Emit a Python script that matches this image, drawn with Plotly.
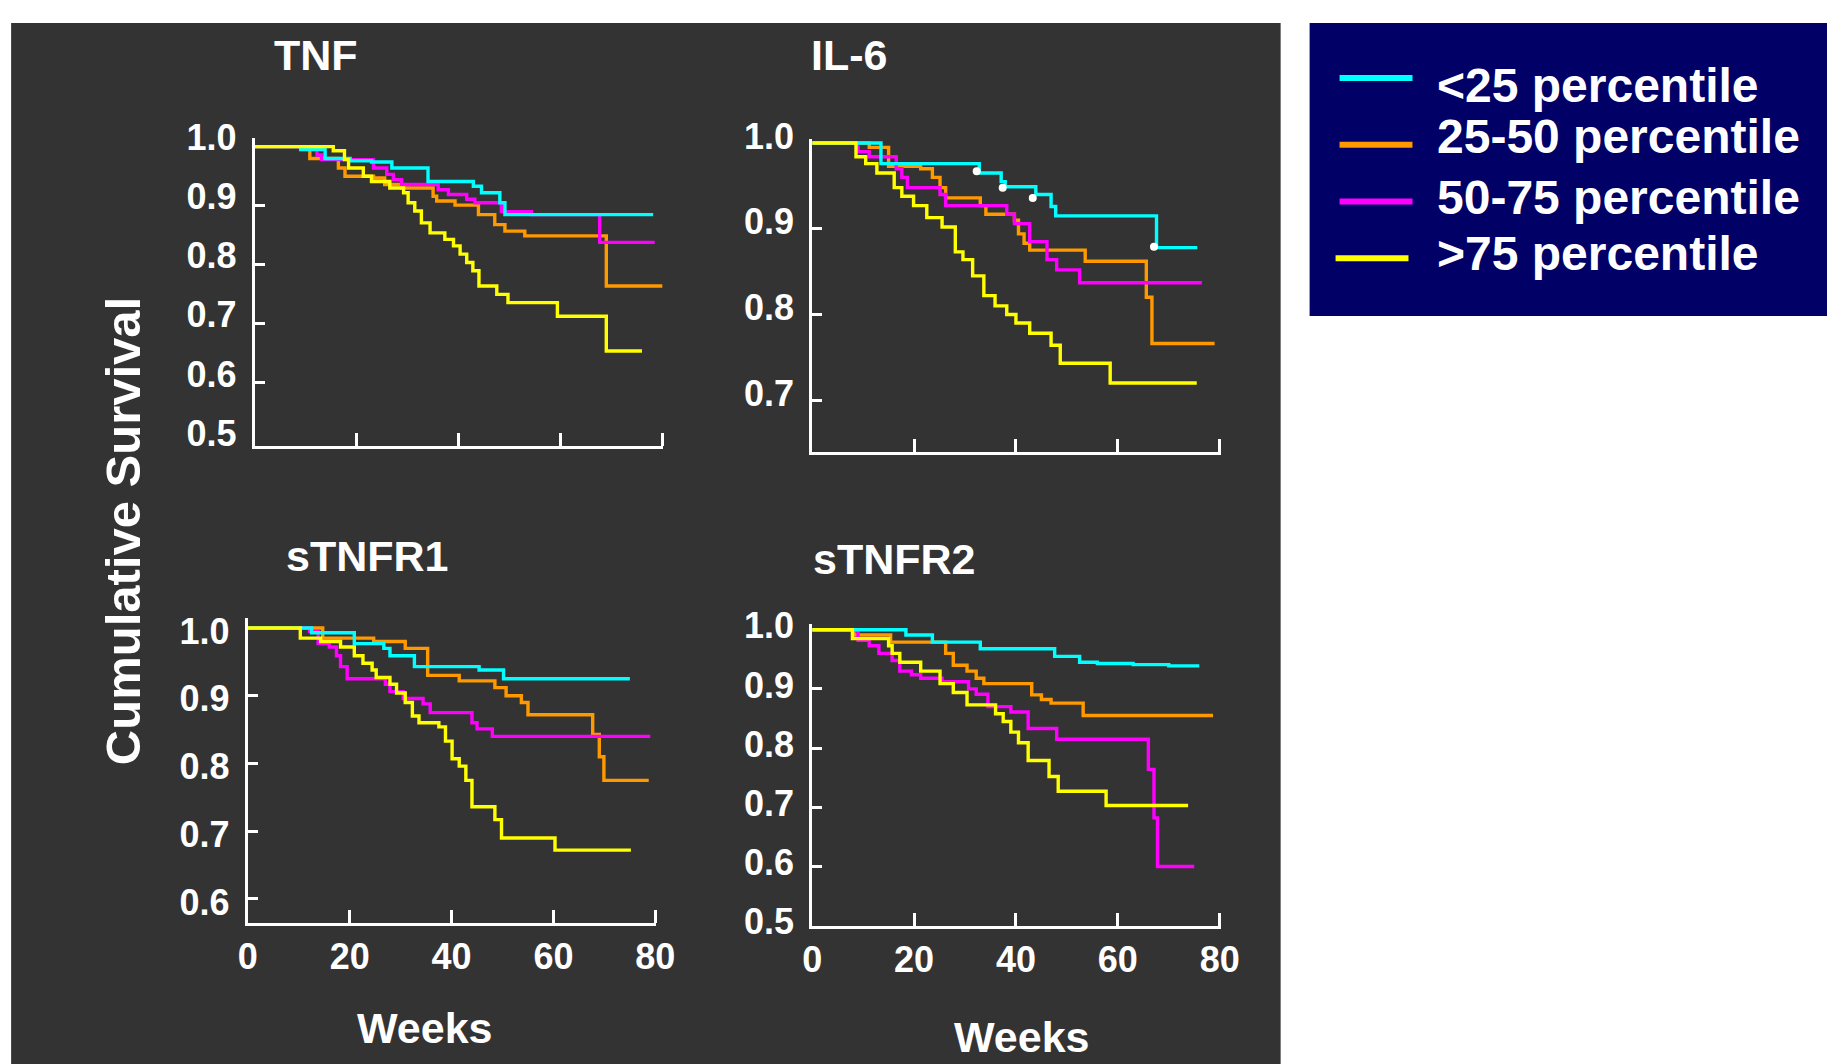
import plotly.graph_objects as go

# Layout positions below are given in target-image pixels (1827 x 1064) and
# converted to paper fractions by fx()/fy().  The page shows the figure after
# an 8px body margin inside a capture area of about 1854 x 1100 page pixels.
IMG_W, IMG_H = 1827, 1064
CAP_W, CAP_H = 1854, 1100
BODY_MARGIN = 8
FIG_W, FIG_H = CAP_W - BODY_MARGIN, CAP_H - BODY_MARGIN

# ---------------------------------------------------------------------------
# Data: Kaplan-Meier step curves (week of each step, survival after the step)
# ---------------------------------------------------------------------------
GROUPS = ["<25 percentile", "25-50 percentile", "50-75 percentile", ">75 percentile"]
GROUP_COLORS = ["#00FFFF", "#FF9900", "#FF00FF", "#FFFF00"]
PANEL_TITLES = ["TNF", "IL-6", "sTNFR1", "sTNFR2"]

WEEK_TICKS = [0, 20, 40, 60, 80]
WEEK_MARKS = [20, 40, 60, 80]
TNF_SURV_LABELS = [0.5, 0.6, 0.7, 0.8, 0.9, 1.0]
TNF_SURV_MARKS = [0.6, 0.7, 0.8, 0.9]
IL6_SURV_LABELS = [0.7, 0.8, 0.9, 1.0]
IL6_SURV_MARKS = [0.7, 0.8, 0.9]
STNFR1_SURV_LABELS = [0.6, 0.7, 0.8, 0.9, 1.0]
STNFR1_SURV_MARKS = [0.6, 0.7, 0.8, 0.9]
STNFR2_SURV_LABELS = [0.5, 0.6, 0.7, 0.8, 0.9, 1.0]
STNFR2_SURV_MARKS = [0.6, 0.7, 0.8, 0.9]

# TNF
TNF_Q1_WEEKS = [9.0, 13.8, 18.7, 22.9, 26.9, 34.0, 42.9, 44.5, 48.1, 49.1]
TNF_Q1_SURV = [0.995, 0.980, 0.976, 0.974, 0.964, 0.941, 0.933, 0.922, 0.905, 0.885]
TNF_Q2_WEEKS = [10.8, 16.4, 17.7, 23.3, 25.5, 28.8, 35.0, 35.7, 39.3, 43.9, 47.1, 49.1, 53.0, 69.0]
TNF_Q2_SURV = [0.980, 0.964, 0.950, 0.947, 0.936, 0.930, 0.916, 0.908, 0.901, 0.885, 0.868, 0.857, 0.849, 0.764]
TNF_Q3_WEEKS = [12.2, 13.1, 23.3, 25.9, 27.2, 28.8, 36.0, 38.0, 41.6, 43.2, 48.4, 54.3, 67.7]
TNF_Q3_SURV = [0.986, 0.978, 0.964, 0.953, 0.944, 0.936, 0.927, 0.919, 0.911, 0.905, 0.890, 0.885, 0.838]
TNF_Q4_WEEKS = [15.4, 17.6, 18.4, 21.3, 22.9, 26.5, 29.2, 30.1, 31.4, 32.7, 34.4, 37.3, 39.0,
                40.3, 41.6, 42.8, 44.0, 47.5, 49.7, 59.4, 69.0]
TNF_Q4_SURV = [0.993, 0.978, 0.964, 0.950, 0.941, 0.930, 0.922, 0.905, 0.891, 0.871, 0.854, 0.843, 0.832,
               0.818, 0.804, 0.790, 0.764, 0.750, 0.736, 0.713, 0.654]
TNF_LAST_WEEK = [78.2, 80.0, 78.5, 76.0]

# IL-6
IL6_Q1_WEEKS = [13.5, 32.8, 37.1, 37.9, 43.9, 46.9, 47.8, 67.6]
IL6_Q1_SURV = [0.976, 0.965, 0.955, 0.949, 0.940, 0.926, 0.915, 0.878]
IL6_Q1_CENSOR_WEEKS = [32.3, 37.4, 43.3, 67.1]
IL6_Q1_CENSOR_SURV = [0.967, 0.948, 0.936, 0.879]
IL6_Q2_WEEKS = [11.2, 15.0, 21.3, 23.6, 25.1, 26.2, 33.0, 34.1, 39.7, 40.5, 41.6, 42.7, 53.6, 65.6, 66.7]
IL6_Q2_SURV = [0.995, 0.973, 0.970, 0.960, 0.948, 0.936, 0.927, 0.917, 0.910, 0.894, 0.883, 0.875,
               0.862, 0.820, 0.766]
IL6_Q3_WEEKS = [9.0, 11.2, 16.5, 17.6, 18.7, 25.1, 26.2, 38.2, 39.7, 42.7, 46.1, 48.0, 52.5]
IL6_Q3_SURV = [0.990, 0.984, 0.970, 0.960, 0.948, 0.940, 0.927, 0.917, 0.906, 0.885, 0.864, 0.852, 0.837]
IL6_Q4_WEEKS = [8.6, 10.5, 12.7, 16.1, 17.6, 19.9, 22.5, 25.5, 28.1, 29.6, 31.5, 33.7, 35.9, 38.2,
                40.0, 42.7, 46.9, 48.7, 58.5]
IL6_Q4_SURV = [0.984, 0.976, 0.965, 0.948, 0.938, 0.927, 0.913, 0.902, 0.873, 0.864, 0.845, 0.822, 0.810,
               0.800, 0.790, 0.778, 0.764, 0.743, 0.720]
IL6_LAST_WEEK = [75.6, 79.0, 76.5, 75.5]

# sTNFR1
STNFR1_Q1_WEEKS = [12.5, 20.9, 26.7, 27.9, 32.7, 45.4, 50.2]
STNFR1_Q1_SURV = [0.993, 0.977, 0.970, 0.959, 0.943, 0.938, 0.925]
STNFR1_Q2_WEEKS = [14.7, 24.7, 30.9, 35.3, 41.5, 48.5, 50.7, 53.7, 55.0, 67.7, 69.0, 69.9]
STNFR1_Q2_SURV = [0.985, 0.980, 0.970, 0.930, 0.922, 0.912, 0.900, 0.890, 0.872, 0.843, 0.810, 0.775]
STNFR1_Q3_WEEKS = [12.1, 13.8, 16.0, 17.4, 18.2, 19.5, 27.0, 27.9, 30.5, 34.4, 35.8, 44.0, 45.0, 48.0]
STNFR1_Q3_SURV = [0.995, 0.977, 0.972, 0.959, 0.943, 0.925, 0.917, 0.906, 0.896, 0.888, 0.875, 0.860,
                  0.851, 0.840]
STNFR1_Q4_WEEKS = [10.3, 14.3, 18.2, 20.9, 22.6, 24.4, 25.2, 27.9, 29.2, 30.9, 32.3, 33.6, 37.5, 38.8,
                   40.1, 41.5, 42.8, 44.0, 48.5, 49.8, 60.3]
STNFR1_Q4_SURV = [0.985, 0.980, 0.972, 0.959, 0.948, 0.938, 0.927, 0.917, 0.904, 0.890, 0.870, 0.860,
                  0.854, 0.833, 0.807, 0.796, 0.775, 0.736, 0.717, 0.690, 0.672]
STNFR1_LAST_WEEK = [75.0, 78.7, 79.0, 75.2]

# sTNFR2
STNFR2_Q1_WEEKS = [18.4, 23.6, 33.0, 47.6, 52.5, 56.0, 63.0, 70.0]
STNFR2_Q1_SURV = [0.991, 0.979, 0.968, 0.955, 0.945, 0.943, 0.941, 0.939]
STNFR2_Q2_WEEKS = [8.2, 15.4, 26.2, 27.7, 30.4, 32.2, 33.7, 43.1, 45.0, 46.9, 53.2]
STNFR2_Q2_SURV = [0.991, 0.979, 0.960, 0.940, 0.930, 0.918, 0.909, 0.890, 0.882, 0.876, 0.855]
STNFR2_Q3_WEEKS = [9.0, 11.2, 13.1, 15.7, 17.2, 19.5, 21.3, 25.5, 30.7, 32.2, 34.5, 39.0, 42.4, 48.0,
                   66.0, 67.1, 67.8]
STNFR2_Q3_SURV = [0.982, 0.973, 0.960, 0.948, 0.930, 0.924, 0.918, 0.912, 0.900, 0.891, 0.870, 0.861,
                  0.833, 0.815, 0.764, 0.682, 0.600]
STNFR2_Q4_WEEKS = [7.9, 15.0, 15.7, 17.2, 21.3, 25.1, 27.7, 30.4, 36.0, 37.5, 39.0, 40.5, 42.4, 46.5,
                   48.3, 57.7]
STNFR2_Q4_SURV = [0.985, 0.973, 0.960, 0.945, 0.930, 0.909, 0.894, 0.873, 0.858, 0.845, 0.827, 0.809,
                  0.779, 0.752, 0.727, 0.703]
STNFR2_LAST_WEEK = [76.0, 78.7, 75.0, 73.8]

# ---------------------------------------------------------------------------
panels = [
    dict(curves=[(TNF_Q1_WEEKS, TNF_Q1_SURV), (TNF_Q2_WEEKS, TNF_Q2_SURV),
                 (TNF_Q3_WEEKS, TNF_Q3_SURV), (TNF_Q4_WEEKS, TNF_Q4_SURV)],
         last=TNF_LAST_WEEK, labels=TNF_SURV_LABELS, marks=TNF_SURV_MARKS, censor=None),
    dict(curves=[(IL6_Q1_WEEKS, IL6_Q1_SURV), (IL6_Q2_WEEKS, IL6_Q2_SURV),
                 (IL6_Q3_WEEKS, IL6_Q3_SURV), (IL6_Q4_WEEKS, IL6_Q4_SURV)],
         last=IL6_LAST_WEEK, labels=IL6_SURV_LABELS, marks=IL6_SURV_MARKS,
         censor=(IL6_Q1_CENSOR_WEEKS, IL6_Q1_CENSOR_SURV)),
    dict(curves=[(STNFR1_Q1_WEEKS, STNFR1_Q1_SURV), (STNFR1_Q2_WEEKS, STNFR1_Q2_SURV),
                 (STNFR1_Q3_WEEKS, STNFR1_Q3_SURV), (STNFR1_Q4_WEEKS, STNFR1_Q4_SURV)],
         last=STNFR1_LAST_WEEK, labels=STNFR1_SURV_LABELS, marks=STNFR1_SURV_MARKS, censor=None),
    dict(curves=[(STNFR2_Q1_WEEKS, STNFR2_Q1_SURV), (STNFR2_Q2_WEEKS, STNFR2_Q2_SURV),
                 (STNFR2_Q3_WEEKS, STNFR2_Q3_SURV), (STNFR2_Q4_WEEKS, STNFR2_Q4_SURV)],
         last=STNFR2_LAST_WEEK, labels=STNFR2_SURV_LABELS, marks=STNFR2_SURV_MARKS, censor=None),
]

# Geometry of each panel in image pixels: x0, x1, top, bottom, y-range,
# y-label shift, week labels shown
GEOM = [
    (253, 662, 123, 432, [0.494, 1.015], -9, False),
    (811, 1220, 124, 438, [0.640, 1.005], -7, False),
    (246, 655, 605, 911, [0.565, 1.015], 3, True),
    (811, 1220, 611, 914, [0.500, 1.010], -4, True),
]
TITLE_POS = [(314, 40), (848, 40), (365, 543), (893, 546)]
WEEKS_POS = [(423, 1017), (1021, 1026)]

FONT = "Liberation Sans, Arial, Helvetica, sans-serif"
BG_DARK = "#333333"
NAVY = "#000066"
DRAW_ORDER = [1, 2, 0, 3]


def fx(p):
    """image x pixel -> paper fraction"""
    return (p * CAP_W / IMG_W - BODY_MARGIN) / FIG_W


def fy(p):
    """image y pixel (from top) -> paper fraction"""
    return 1 - (p * CAP_H / IMG_H - BODY_MARGIN) / FIG_H


def km_steps(weeks, surv, last):
    xs = [0.0] + list(weeks) + [last]
    ys = [1.0] + list(surv) + [surv[-1]]
    return xs, ys


fig = go.Figure()
layout_axes = {}

for i, (panel, geom) in enumerate(zip(panels, GEOM)):
    n = i + 1
    m = i + 5
    x0, x1, top, bottom, yrange, yshift, show_weeks = geom
    xname, yname = ("x" if n == 1 else f"x{n}"), ("y" if n == 1 else f"y{n}")

    for g in DRAW_ORDER:
        weeks, surv = panel["curves"][g]
        xs, ys = km_steps(weeks, surv, panel["last"][g])
        fig.add_trace(go.Scatter(
            x=xs, y=ys, mode="lines", line=dict(color=GROUP_COLORS[g], width=3.4, shape="hv"),
            name=GROUPS[g], showlegend=False, hoverinfo="skip", xaxis=xname, yaxis=yname,
        ))
    if panel["censor"] is not None:
        cw, cs = panel["censor"]
        fig.add_trace(go.Scatter(
            x=cw, y=cs, mode="markers", marker=dict(color="white", size=8),
            showlegend=False, hoverinfo="skip", xaxis=xname, yaxis=yname,
        ))
    # empty trace so the tick-mark overlay axes get their own subplot
    fig.add_trace(go.Scatter(x=[None], y=[None], showlegend=False, hoverinfo="skip",
                             xaxis=f"x{m}", yaxis=f"y{m}"))

    xdom = [fx(x0), fx(x1)]
    ydom = [fy(bottom), fy(top)]
    tickfont = dict(family=FONT, size=36, color="white", weight="bold")

    layout_axes["xaxis" if n == 1 else f"xaxis{n}"] = dict(
        domain=xdom, range=[0, 80.2], anchor=yname, showline=True, linecolor="white",
        linewidth=3, showgrid=False, zeroline=False, ticks="", tickmode="array",
        tickvals=WEEK_TICKS, ticktext=[str(v) for v in WEEK_TICKS],
        showticklabels=show_weeks, tickfont=tickfont, ticklabelstandoff=0, fixedrange=True,
    )
    layout_axes["yaxis" if n == 1 else f"yaxis{n}"] = dict(
        domain=ydom, range=yrange, anchor=xname, showline=True, linecolor="white",
        linewidth=3, showgrid=False, zeroline=False, ticks="", tickmode="array",
        tickvals=panel["labels"], ticktext=[f"{v:.1f}" for v in panel["labels"]],
        tickfont=tickfont, ticklabelstandoff=8, ticklabelshift=yshift, fixedrange=True,
    )
    # overlay axes carrying only the inward tick marks
    layout_axes[f"xaxis{m}"] = dict(
        overlaying=xname, anchor=f"y{m}", range=[0, 80.2], showline=False, showgrid=False,
        zeroline=False, ticks="inside", ticklen=13, tickwidth=3, tickcolor="white",
        tickmode="array", tickvals=WEEK_MARKS, showticklabels=False, fixedrange=True,
    )
    layout_axes[f"yaxis{m}"] = dict(
        overlaying=yname, anchor=f"x{m}", range=yrange, showline=False, showgrid=False,
        zeroline=False, ticks="inside", ticklen=10, tickwidth=3, tickcolor="white",
        tickmode="array", tickvals=panel["marks"], showticklabels=False, fixedrange=True,
    )

shapes = [
    # dark chart panel
    dict(type="rect", xref="paper", yref="paper", x0=fx(9), x1=fx(1280), y0=0, y1=1,
         fillcolor=BG_DARK, line=dict(width=0), layer="below"),
    # legend box
    dict(type="rect", xref="paper", yref="paper", x0=fx(1309), x1=1.0, y0=fy(302), y1=1,
         fillcolor=NAVY, line=dict(width=0), layer="below"),
]

annotations = []
LEGEND_LINE_Y = [63, 130, 187, 244]
LEGEND_LINE_X = [(1339, 1412), (1339, 1412), (1339, 1412), (1335, 1408)]
LEGEND_TEXT_Y = [70, 122, 183, 239]
for g in range(4):
    lx0, lx1 = LEGEND_LINE_X[g]
    shapes.append(dict(type="line", xref="paper", yref="paper", x0=fx(lx0), x1=fx(lx1),
                       y0=fy(LEGEND_LINE_Y[g]), y1=fy(LEGEND_LINE_Y[g]),
                       line=dict(color=GROUP_COLORS[g], width=6)))
    annotations.append(dict(
        text=GROUPS[g].replace("<", "&lt;").replace(">", "&gt;"), xref="paper", yref="paper",
        x=fx(1435), y=fy(LEGEND_TEXT_Y[g]), xanchor="left", yanchor="middle", showarrow=False,
        font=dict(family=FONT, size=48, color="white", weight="bold"),
    ))

for title, (tx, ty) in zip(PANEL_TITLES, TITLE_POS):
    annotations.append(dict(
        text=title, xref="paper", yref="paper", x=fx(tx), y=fy(ty), xanchor="center",
        yanchor="middle", showarrow=False,
        font=dict(family=FONT, size=43, color="white", weight="bold"),
    ))

for wx, wy in WEEKS_POS:
    annotations.append(dict(
        text="Weeks", xref="paper", yref="paper", x=fx(wx), y=fy(wy), xanchor="center",
        yanchor="middle", showarrow=False,
        font=dict(family=FONT, size=43, color="white", weight="bold"),
    ))

annotations.append(dict(
    text="Cumulative Survival", xref="paper", yref="paper", x=fx(121), y=fy(518),
    xanchor="center", yanchor="middle", textangle=-90, showarrow=False,
    font=dict(family=FONT, size=49, color="white", weight="bold"),
))

fig.update_layout(
    width=FIG_W, height=FIG_H, margin=dict(l=0, r=0, t=0, b=0, pad=0),
    paper_bgcolor="white", plot_bgcolor="rgba(0,0,0,0)",
    showlegend=False, shapes=shapes, annotations=annotations, **layout_axes,
)

fig.write_html("out.html", config={"displayModeBar": False})
